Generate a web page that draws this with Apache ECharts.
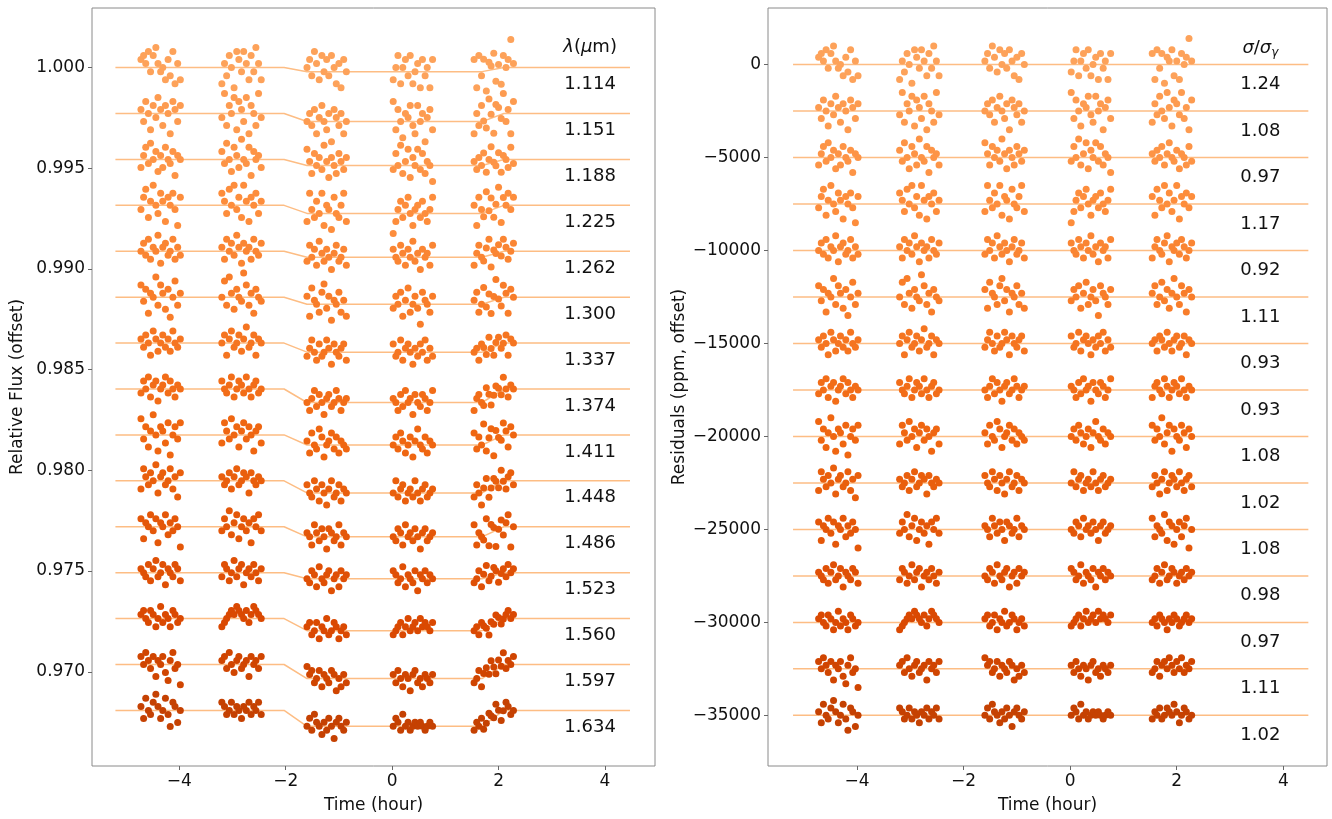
<!DOCTYPE html>
<html>
<head>
<meta charset="utf-8">
<title>Spectroscopic light curves and residuals</title>
<script src="https://cdn.jsdelivr.net/npm/echarts@6.0.0/dist/echarts.min.js"></script>
<style>
  html, body { margin: 0; padding: 0; background: #fff; }
  #main { width: 1332px; height: 819px; }
</style>
</head>
<body>
<div id="main"></div>
<script>
// exposure mid-times (hour from mid-transit), one array per HST orbit
const orbit1 = [-4.72, -4.67, -4.63, -4.58, -4.54, -4.49, -4.44, -4.40, -4.35, -4.31, -4.26, -4.21, -4.17, -4.12, -4.08, -4.03, -3.98];
const orbit2 = [-3.20, -3.15, -3.11, -3.06, -3.02, -2.97, -2.92, -2.88, -2.83, -2.79, -2.74, -2.69, -2.65, -2.60, -2.56, -2.51, -2.46];
const orbit3 = [-1.60, -1.55, -1.51, -1.46, -1.42, -1.37, -1.32, -1.28, -1.23, -1.19, -1.14, -1.09, -1.05, -1.00, -0.96, -0.91, -0.86];
const orbit4 = [0.02, 0.07, 0.11, 0.16, 0.20, 0.25, 0.30, 0.34, 0.39, 0.43, 0.48, 0.53, 0.57, 0.62, 0.66, 0.71, 0.76];
const orbit5 = [1.54, 1.59, 1.63, 1.68, 1.72, 1.77, 1.82, 1.86, 1.91, 1.95, 2.00, 2.05, 2.09, 2.14, 2.18, 2.23, 2.28];
const orbitTimes = [orbit1, orbit2, orbit3, orbit4, orbit5];

const wavelengths = ['1.114', '1.151', '1.188', '1.225', '1.262', '1.300', '1.337', '1.374',
                     '1.411', '1.448', '1.486', '1.523', '1.560', '1.597', '1.634'];
const sigmaRatios = ['1.24', '1.08', '0.97', '1.17', '0.92', '1.11', '0.93', '0.93',
                     '1.08', '1.02', '1.08', '0.98', '0.97', '1.11', '1.02'];
// transit depth of each model curve (relative flux)
const transitDepths = [0.0002, 0.0004, 0.0003, 0.0004, 0.0003, 0.00035, 0.00045, 0.00067,
                       0.0005, 0.0006, 0.0005, 0.0003, 0.0006, 0.0007, 0.00079];
// model curve knots: time (hour) and fraction of the depth
const modelTimes = [-5.2, -2.03, -1.6, 1.69, 2.1, 4.47];
const modelShape = [0, 0, 1, 1, 0, 0];

// residuals per row, in steps of 200 ppm, one sub-array per orbit
const r01 = [[2,3,1,4,-1,3,5,1,-1,0,-3,2,-2,4,-4,1,-3],[-4,1,-2,3,0,-5,4,2,-1,4,1,-3,3,-1,5,1,-3],[1,3,-1,5,2,-2,4,0,3,-1,4,1,-3,2,-4,3,0],[-2,1,4,-3,1,3,-1,4,-3,0,2,-4,3,-1,1,-4,3],[3,-4,4,-1,3,-5,2,1,4,-3,1,-4,3,0,2,7,1]];
const r02 = [[1,-2,3,0,-4,2,-1,4,1,-3,2,0,-5,3,1,-2,2],[-1,5,-3,2,0,4,-4,3,1,-2,4,-5,2,0,-3,5,-1],[0,2,-1,3,-3,1,4,0,-2,2,-5,3,1,-1,2,-3,0],[5,-2,3,0,-4,2,1,4,-1,-3,4,0,2,-5,1,3,-2],[-3,2,-1,4,0,-2,5,1,-4,3,2,-1,5,-2,1,-5,3]];
const r03 = [[-2,1,3,-1,4,0,2,-3,1,-2,3,0,-1,2,-4,1,0],[2,-1,4,0,-3,3,1,-2,5,0,-1,3,-4,2,0,1,-2],[4,1,-2,3,0,2,-1,5,1,-3,2,0,-2,3,1,-1,2],[-1,3,0,5,-2,1,4,-3,2,0,4,-1,3,-2,1,0,-4],[1,-1,2,0,3,-2,1,4,0,-1,2,-3,1,0,-2,3,-1]];
const r04 = [[-1,2,4,-3,1,5,0,-2,3,1,-4,2,0,3,-1,-5,2],[3,1,-2,4,0,5,-1,2,-3,5,1,-4,2,0,3,-2,1],[-2,5,1,-1,3,0,5,-3,2,1,-4,4,0,-1,2,5,-2],[-5,-2,1,3,-1,2,4,0,-3,1,2,-1,3,0,-2,1,4],[2,-3,4,1,-1,5,0,3,-2,1,5,-4,2,0,3,-1,2]];
const r05 = [[0,2,-1,3,-2,1,0,4,-3,1,2,-1,0,3,-2,1,-1],[1,-2,3,0,2,-1,4,1,-3,2,0,1,-2,3,0,-1,2],[-1,3,0,2,-2,4,1,-1,2,0,-3,1,3,-1,0,2,-2],[2,0,-1,3,1,-2,2,0,4,-1,1,-3,2,0,1,-2,3],[-2,1,3,0,-1,2,4,-3,1,0,2,-1,3,1,-2,0,2]];
const r06 = [[3,-1,2,-4,1,0,5,-2,3,1,-3,2,-5,0,4,-2,1],[0,4,-2,5,1,-3,2,0,-1,6,3,-2,1,-4,2,0,-1],[2,-3,4,1,0,-2,3,5,-1,2,-4,1,0,3,-2,1,-3],[-1,2,0,3,-3,1,4,-2,0,2,-1,-5,3,1,0,-2,2],[1,3,-2,0,4,-1,2,-3,1,5,0,-2,3,1,-4,2,0]];
const r07 = [[1,-1,2,0,-3,3,1,-2,0,2,-1,1,-2,3,0,-1,1],[0,2,-3,1,3,-1,0,2,-2,1,4,-1,0,2,-3,1,0],[-1,1,3,0,-2,2,-1,0,3,1,-3,2,0,-1,1,2,-2],[2,-1,0,3,-2,1,2,0,-3,1,-1,2,0,3,-2,1,-1],[0,1,-2,2,1,-1,3,0,-2,1,2,-1,0,2,-3,1,0]];
const r08 = [[-1,2,0,3,-2,1,2,-3,0,1,3,-1,2,0,-2,1,0],[2,0,-1,1,3,-2,0,2,1,-1,3,0,-2,1,2,-1,0],[0,-2,1,3,-1,2,0,-3,1,2,-1,0,3,1,-2,0,1],[1,0,-2,2,-1,3,0,1,-3,2,0,-1,2,1,-2,0,3],[-2,1,2,0,-1,3,1,-2,0,2,1,-1,3,0,-2,1,0]];
const r09 = [[4,-1,2,-3,1,5,0,-4,2,1,-2,3,-5,0,2,-1,3],[-2,3,1,-1,4,0,2,-3,1,3,-1,2,0,-4,1,2,-2],[1,-2,3,0,-1,4,2,-3,0,1,3,-1,2,-2,1,0,-1],[0,2,-1,3,1,-2,0,2,-3,1,4,0,-1,2,-2,1,0],[3,-1,2,0,5,-2,1,3,-4,2,0,-1,3,1,-3,2,0]];
const r10 = [[-2,3,1,-1,2,0,4,-3,1,2,-1,0,3,-2,1,-4,2],[1,-1,0,2,-2,1,3,-1,0,2,1,-3,2,0,-1,1,0],[2,0,-1,3,1,-2,2,0,-3,1,3,-1,0,2,-2,1,0],[0,3,-1,1,2,-2,0,1,-1,3,0,-2,1,2,-1,0,1],[-1,2,0,-3,1,3,-2,0,2,1,-1,3,0,-2,1,2,-1]];
const r11 = [[2,-3,1,0,3,-1,2,-4,1,0,3,-2,1,-1,2,0,-5],[-1,2,0,4,-2,1,3,-3,0,2,-1,1,-4,2,0,3,-1],[1,0,-2,3,1,-1,2,0,-3,2,1,-1,0,3,-2,1,0],[0,-1,2,1,-2,3,0,1,-1,2,0,-3,1,2,-1,0,1],[3,-2,1,0,-1,4,-3,2,1,-4,0,2,-2,1,3,-5,0]];
const r12 = [[1,0,-1,2,-2,1,3,-1,0,2,-3,1,0,-1,2,1,-2],[-1,2,1,-2,0,3,-1,1,2,-3,0,1,-1,2,0,-2,1],[0,-1,2,1,-2,3,0,-1,1,2,-3,0,1,-2,2,0,1],[2,1,-1,0,3,-2,1,0,-1,2,-3,1,0,2,-1,1,0],[-1,0,2,-2,1,3,-1,0,2,1,-2,0,1,-1,2,0,1]];
const r13 = [[1,2,0,-1,2,1,-2,0,3,-1,1,0,-2,2,1,-1,0],[-2,-1,0,1,2,1,3,2,1,0,2,-1,1,3,2,1,0],[1,2,-1,0,2,-2,1,0,3,-1,0,2,1,-2,0,1,-1],[-1,0,1,2,-1,1,3,0,1,2,0,3,1,2,1,0,2],[0,1,-1,2,1,0,-2,1,0,2,1,-1,0,1,2,0,1]];
const r14 = [[2,0,3,1,-1,2,-3,1,0,2,-2,-4,1,3,-1,0,-5],[1,2,-1,3,0,-2,1,2,-1,0,1,-3,2,0,1,-1,2],[3,1,2,-1,0,2,-2,1,0,-1,2,1,-3,0,-2,1,-1],[1,-1,2,0,-2,1,0,-3,1,2,-1,0,-2,1,0,-1,1],[-1,0,2,-2,1,2,0,3,1,-1,2,0,3,-1,1,0,2]];
const r15 = [[1,-2,3,0,-1,2,4,1,-2,0,3,-1,-4,2,1,-3,0],[2,1,-1,0,2,-1,1,0,-2,1,0,2,-1,1,0,2,-1],[0,2,-1,3,1,0,-2,1,-1,2,0,-3,1,2,0,-1,1],[0,2,1,-1,3,0,1,-1,0,1,0,1,0,-1,0,1,0],[-1,1,0,2,-1,0,2,1,0,3,1,-2,0,2,1,-1,0]];
const residRows = [r01, r02, r03, r04, r05, r06, r07, r08, r09, r10, r11, r12, r13, r14, r15];
const residStep = 200;     // ppm per step in the residual arrays
const fluxOffset = 0.00228; // vertical offset between light curves
const ppmOffset = 2500;     // vertical offset between residual rows

// x/y tick values
const timeTicks = [-4, -2, 0, 2, 4];
const fluxTicks = [0.970, 0.975, 0.980, 0.985, 0.990, 0.995, 1.000];
const ppmTicks = [0, -5000, -10000, -15000, -20000, -25000, -30000, -35000];

// matplotlib "Oranges" colormap stops, sampled from 0.42 to 0.80
const orangeStops = ['#fff5eb', '#fee6ce', '#fdd0a2', '#fdae6b', '#fd8d3c', '#f16913', '#d94801', '#a63603', '#7f2704'];
function oranges(t) {
  const p = t * (orangeStops.length - 1);
  const k = Math.min(Math.floor(p), orangeStops.length - 2);
  const f = p - k;
  const a = echarts.color.parse(orangeStops[k]);
  const b = echarts.color.parse(orangeStops[k + 1]);
  return 'rgb(' + [0, 1, 2].map(j => Math.round(a[j] + (b[j] - a[j]) * f)).join(',') + ')';
}
const lineColor = '#fdbd84';
const font = 'DejaVu Sans';
const ink = '#111';
const minus = v => (v < 0 ? '\u2212' + Math.abs(v) : String(v));

function modelAt(t) {
  for (let k = 0; k < modelTimes.length - 1; k++) {
    if (t >= modelTimes[k] && t <= modelTimes[k + 1]) {
      const f = (t - modelTimes[k]) / (modelTimes[k + 1] - modelTimes[k]);
      return modelShape[k] + (modelShape[k + 1] - modelShape[k]) * f;
    }
  }
  return 0;
}

const series = [];
const leftLabels = [], rightLabels = [];
residRows.forEach((row, i) => {
  const base = 1 - i * fluxOffset;
  const depth = transitDepths[i];
  const col = oranges(0.42 + 0.38 * i / (residRows.length - 1));
  const left = [], right = [];
  orbitTimes.forEach((times, o) => {
    times.forEach((t, k) => {
      const v = row[o][k];
      if (v === undefined) return;
      left.push([t, base - depth * modelAt(t) + v * residStep * 1e-6]);
      right.push([t, -i * ppmOffset + v * residStep]);
    });
  });
  series.push({
    type: 'line', xAxisIndex: 0, yAxisIndex: 0, z: 1, silent: true, symbol: 'none',
    lineStyle: { color: lineColor, width: 1.5 },
    data: modelTimes.map((t, k) => [t, base - depth * modelShape[k]])
  });
  series.push({
    type: 'scatter', xAxisIndex: 0, yAxisIndex: 0, z: 3, symbolSize: 7,
    itemStyle: { color: col, opacity: 1 }, data: left
  });
  series.push({
    type: 'line', xAxisIndex: 1, yAxisIndex: 1, z: 1, silent: true, symbol: 'none',
    lineStyle: { color: lineColor, width: 1.5 },
    data: [[modelTimes[0], -i * ppmOffset], [modelTimes[modelTimes.length - 1], -i * ppmOffset]]
  });
  series.push({
    type: 'scatter', xAxisIndex: 1, yAxisIndex: 1, z: 3, symbolSize: 7,
    itemStyle: { color: col, opacity: 1 }, data: right
  });
  leftLabels.push({ name: wavelengths[i], value: [3.72, base - 0.00084] });
  rightLabels.push({ name: sigmaRatios[i], value: [3.57, -i * ppmOffset - 1070] });
});

const textLabel = (fmt) => ({
  show: true, position: 'inside', formatter: fmt, color: ink,
  fontFamily: font, fontSize: 18,
  rich: {
    i: { fontStyle: 'italic', fontFamily: font, fontSize: 18, color: ink },
    s: { fontStyle: 'italic', fontFamily: font, fontSize: 12, color: ink, padding: [10, 0, 0, 0] }
  }
});
leftLabels.push({ name: 'head', value: [3.72, 1.00099], label: textLabel('{i|λ}({i|μ}m)') });
rightLabels.push({ name: 'head', value: [3.57, 900], label: textLabel('{i|σ}/{i|σ}{s|γ}') });
series.push({
  type: 'scatter', xAxisIndex: 0, yAxisIndex: 0, symbolSize: 1, silent: true, z: 5,
  itemStyle: { color: 'rgba(0,0,0,0)', opacity: 1 }, label: textLabel(p => p.name), data: leftLabels
});
series.push({
  type: 'scatter', xAxisIndex: 1, yAxisIndex: 1, symbolSize: 1, silent: true, z: 5,
  itemStyle: { color: 'rgba(0,0,0,0)', opacity: 1 }, label: textLabel(p => p.name), data: rightLabels
});

const xAxisBase = (min, max) => ({
  type: 'value', min: min, max: max,
  name: 'Time (hour)', nameLocation: 'middle', nameGap: 31,
  nameTextStyle: { fontFamily: font, fontSize: 17, color: ink },
  axisLine: { show: false, onZero: false },
  axisTick: { show: true, length: 4, customValues: timeTicks, lineStyle: { color: '#666' } },
  axisLabel: { customValues: timeTicks, formatter: minus, fontFamily: font, fontSize: 17, color: ink, margin: 7 },
  splitLine: { show: false }
});
const yAxisBase = (min, max, ticks, name, gap, fmt) => ({
  type: 'value', min: min, max: max, name: name, nameLocation: 'middle', nameGap: gap,
  nameTextStyle: { fontFamily: font, fontSize: 17, color: ink },
  axisLine: { show: false, onZero: false },
  axisTick: { show: true, length: 4, customValues: ticks, lineStyle: { color: '#666' } },
  axisLabel: { customValues: ticks, formatter: fmt, fontFamily: font, fontSize: 17, color: ink, margin: 7 },
  splitLine: { show: false }
});

const chart = echarts.init(document.getElementById('main'));
chart.setOption({
  animation: false,
  backgroundColor: '#fff',
  grid: [
    { left: 92, top: 8, width: 563, height: 763, show: true, borderColor: '#8a8a8a', borderWidth: 1 },
    { left: 768, top: 8, width: 559, height: 763, show: true, borderColor: '#8a8a8a', borderWidth: 1 }
  ],
  xAxis: [
    Object.assign(xAxisBase(-5.64, 4.94), { gridIndex: 0 }),
    Object.assign(xAxisBase(-5.67, 4.82), { gridIndex: 1 })
  ],
  yAxis: [
    Object.assign(yAxisBase(0.96532, 1.00296, fluxTicks, 'Relative Flux (offset)', 66, v => v.toFixed(3)), { gridIndex: 0 }),
    Object.assign(yAxisBase(-37724, 3045, ppmTicks, 'Residuals (ppm, offset)', 80, minus), { gridIndex: 1 })
  ],
  series: series
});
</script>
</body>
</html>
